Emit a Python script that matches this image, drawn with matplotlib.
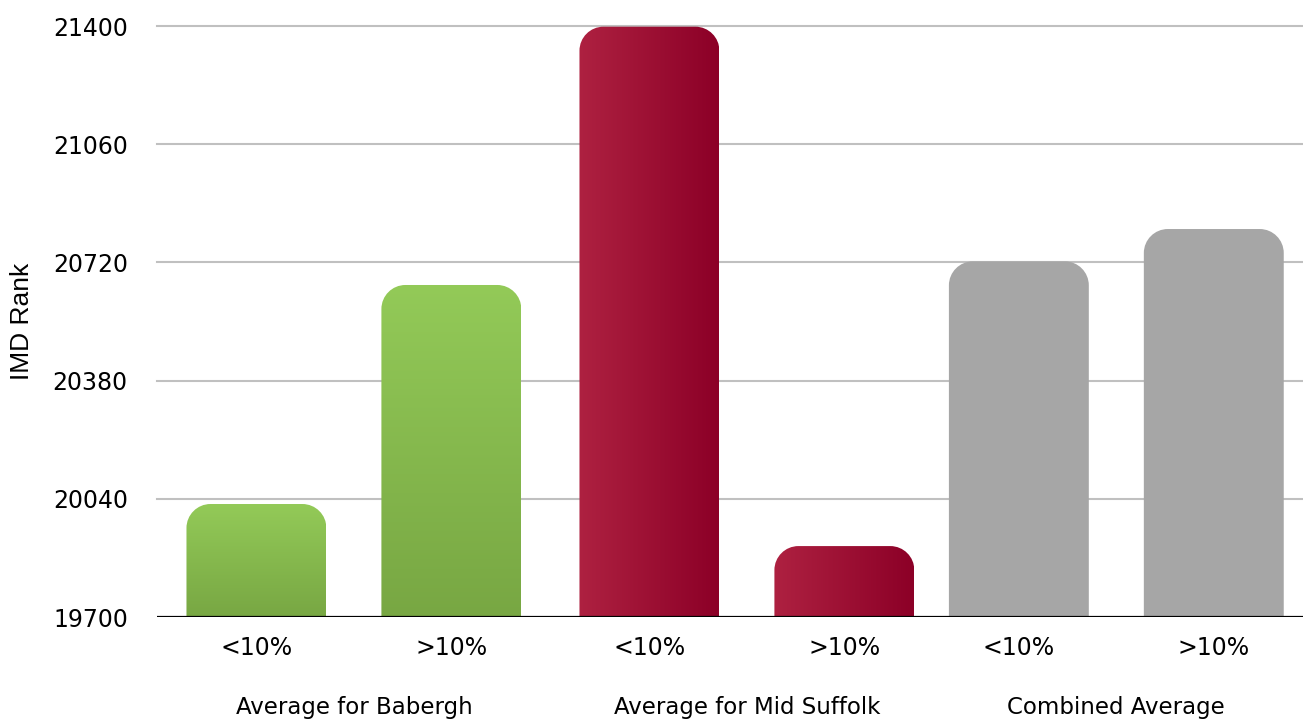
import numpy as np
import matplotlib.pyplot as plt
from matplotlib.path import Path
from matplotlib.patches import PathPatch
from matplotlib.colors import to_rgb

# data
groups = ['Average for Babergh', 'Average for Mid Suffolk', 'Combined Average']
subgroups = ['<10%', '>10%']
babergh = [20025, 20655]
mid_suffolk = [21398, 19904]
combined = [20723, 20816]
yticks = [19700, 20040, 20380, 20720, 21060, 21400]

# layout
group_x = [0, 1, 1.94]
offset = 0.248
width = 0.356
ymin, ymax = 19700, 21400


def bar_path(x0, x1, y0, y1, rx, ry):
    k = 0.5523
    verts = [(x0, y0), (x0, y1 - ry), (x0, y1 - ry + k * ry), (x0 + rx - k * rx, y1),
             (x0 + rx, y1), (x1 - rx, y1), (x1 - rx + k * rx, y1), (x1, y1 - ry + k * ry),
             (x1, y1 - ry), (x1, y0), (x0, y0)]
    codes = [Path.MOVETO, Path.LINETO, Path.CURVE4, Path.CURVE4, Path.CURVE4, Path.LINETO,
             Path.CURVE4, Path.CURVE4, Path.CURVE4, Path.LINETO, Path.CLOSEPOLY]
    return Path(verts, codes)


def grad(c1, c2, n=256):
    a, b = np.array(to_rgb(c1)), np.array(to_rgb(c2))
    t = np.linspace(0, 1, n)[:, None]
    return a + (b - a) * t


fig = plt.figure(figsize=(13.03, 7.22), dpi=100)
ax = fig.add_axes([157 / 1303, 105 / 722, 1146 / 1303, 591 / 722])
ax.set_xlim(-0.501, 2.415)
ax.set_ylim(ymin, ymax)

rx, ry = 24 / 393, 24 / 0.3476

series = [babergh, mid_suffolk, combined]
styles = ['green', 'red', 'gray']
xt, xl = [], []
for g, vals in enumerate(series):
    for s, v in enumerate(vals):
        xc = group_x[g] + (s - 0.5) * 2 * offset
        x0, x1 = xc - width / 2, xc + width / 2
        p = PathPatch(bar_path(x0, x1, ymin, v, rx, ry), lw=0, zorder=2)
        if styles[g] == 'gray':
            p.set_facecolor('#a6a6a6')
            ax.add_patch(p)
        else:
            p.set_facecolor('none')
            ax.add_patch(p)
            if styles[g] == 'green':
                img = grad('#93ca58', '#78a743')[:, None, :]
            else:
                img = grad('#ae2141', '#8c0027')[None, :, :]
            im = ax.imshow(img, extent=[x0, x1, ymin, v], aspect='auto', origin='upper',
                           interpolation='bilinear', zorder=2)
            im.set_clip_path(p)
        xt.append(xc)
        xl.append(subgroups[s])

ax.set_yticks(yticks)
ax.set_yticklabels([str(t) for t in yticks], fontsize=17, family='DejaVu Sans')
ax.set_xticks(xt)
ax.set_xticklabels(xl, fontsize=17, family='DejaVu Sans')
ax.tick_params(length=0)
ax.tick_params(axis='y', pad=21)
ax.tick_params(axis='x', pad=14)
for sp in ax.spines.values():
    sp.set_visible(False)

for t in yticks[1:]:
    ax.axhline(t, color='#c0c0c0', lw=1.5, zorder=0.5, clip_on=False)
ax.axhline(ymin, color='black', lw=1.6, zorder=3)

# group labels (the original crops them at the bottom edge; kept just inside)
for g, name in enumerate(groups):
    ax.annotate(name, xy=(group_x[g], 0), xycoords=('data', 'axes fraction'),
                xytext=(0, -65), textcoords='offset points', ha='center', va='center',
                fontsize=16.5, family='DejaVu Sans', annotation_clip=False)

ax.set_ylabel('IMD Rank', fontsize=19, family='Liberation Sans')
ax.yaxis.set_label_coords(-123 / 1146, 0.5)

fig.savefig('out.png', dpi=100)
